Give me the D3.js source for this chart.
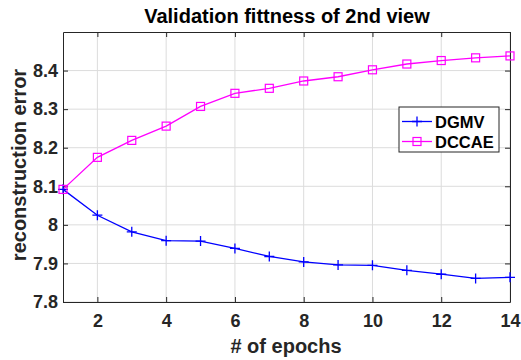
<!DOCTYPE html>
<html>
<head>
<meta charset="utf-8">
<script src="https://cdn.jsdelivr.net/npm/d3@7"></script>
<style>
  body { margin: 0; background: #fff; }
  text { font-family: "Liberation Sans", Arial, sans-serif; font-weight: bold; }
</style>
</head>
<body>
<div id="chart"></div>
<script>
// data
var epochs = [1, 2, 3, 4, 5, 6, 7, 8, 9, 10, 11, 12, 13, 14];
var dgmv = [8.092, 8.025, 7.982, 7.959, 7.958, 7.939, 7.918, 7.904, 7.896, 7.895, 7.882, 7.872, 7.861, 7.864];
var dccae = [8.092, 8.175, 8.219, 8.256, 8.307, 8.341, 8.354, 8.373, 8.384, 8.402, 8.417, 8.426, 8.433, 8.438];
var xTicks = [2, 4, 6, 8, 10, 12, 14];
var yTicks = [7.8, 7.9, 8, 8.1, 8.2, 8.3, 8.4];

var W = 521, H = 360;
var margin = { top: 32, right: 11, bottom: 58, left: 63 };
var width = W - margin.left - margin.right,
    height = H - margin.top - margin.bottom;

var axisColor = "#262626";

var svg = d3.select("#chart").append("svg")
  .attr("width", W)
  .attr("height", H);

var g = svg.append("g")
  .attr("transform", "translate(" + margin.left + "," + margin.top + ")");

var x = d3.scaleLinear().domain([1, 14]).range([0, width]);
var y = d3.scaleLinear().domain([7.8, 8.5]).range([height, 0]);

// grid
g.selectAll(".vgrid").data(xTicks).enter().append("line")
  .attr("x1", function (d) { return x(d); })
  .attr("x2", function (d) { return x(d); })
  .attr("y1", 0).attr("y2", height)
  .style("stroke", "#dcdcdc").style("stroke-width", 1);
g.selectAll(".hgrid").data(yTicks).enter().append("line")
  .attr("y1", function (d) { return y(d); })
  .attr("y2", function (d) { return y(d); })
  .attr("x1", 0).attr("x2", width)
  .style("stroke", "#dcdcdc").style("stroke-width", 1);

// axes (ticks pointing inward, box on)
function styleAxis(sel) {
  sel.selectAll("path").style("stroke", axisColor);
  sel.selectAll("line").style("stroke", axisColor);
  sel.selectAll("text").style("fill", axisColor).style("font-size", "18px");
}
g.append("g")
  .attr("transform", "translate(0," + height + ")")
  .call(d3.axisBottom(x).tickValues(xTicks).tickSize(-5).tickSizeOuter(0).tickPadding(12).tickFormat(d3.format("d")))
  .call(styleAxis);
g.append("g")
  .call(d3.axisTop(x).tickValues(xTicks).tickSize(-5).tickSizeOuter(0).tickFormat(""))
  .call(styleAxis);
g.append("g")
  .call(d3.axisLeft(y).tickValues(yTicks).tickSize(-5).tickSizeOuter(0).tickPadding(5).tickFormat(function (d) { return d3.format("")(+d.toFixed(1)); }))
  .call(styleAxis);
g.append("g")
  .attr("transform", "translate(" + width + ",0)")
  .call(d3.axisRight(y).tickValues(yTicks).tickSize(-5).tickSizeOuter(0).tickFormat(""))
  .call(styleAxis);

// lines
var line = function (vals) {
  return d3.line()
    .x(function (d, i) { return x(epochs[i]); })
    .y(function (d) { return y(d); })(vals);
};

g.append("path")
  .attr("d", line(dgmv))
  .style("fill", "none").style("stroke", "#0000ff").style("stroke-width", 1.3);
g.append("path")
  .attr("d", line(dccae))
  .style("fill", "none").style("stroke", "#ff00ff").style("stroke-width", 1.3);

// markers
g.selectAll(".plus").data(dgmv).enter().append("path")
  .attr("transform", function (d, i) { return "translate(" + x(epochs[i]) + "," + y(d) + ")"; })
  .attr("d", "M-5,0H5M0,-5V5")
  .style("stroke", "#0000ff").style("stroke-width", 1.3);
g.selectAll(".sq").data(dccae).enter().append("rect")
  .attr("x", function (d, i) { return x(epochs[i]) - 4; })
  .attr("y", function (d) { return y(d) - 4; })
  .attr("width", 8).attr("height", 8)
  .style("fill", "none").style("stroke", "#ff00ff").style("stroke-width", 1.2);

// title and labels
svg.append("text")
  .attr("x", 287).attr("y", 23)
  .attr("text-anchor", "middle")
  .style("font-size", "20px").style("fill", "#000")
  .text("Validation fittness of 2nd view");
svg.append("text")
  .attr("x", 286).attr("y", 353)
  .attr("text-anchor", "middle")
  .style("font-size", "20px").style("fill", axisColor)
  .text("# of epochs");
svg.append("text")
  .attr("transform", "translate(26,165) rotate(-90)")
  .attr("text-anchor", "middle")
  .style("font-size", "20px").style("fill", axisColor)
  .text("reconstruction error");

// legend
var lg = svg.append("g").attr("transform", "translate(399,107)");
lg.append("rect")
  .attr("width", 100).attr("height", 45)
  .style("fill", "#fff").style("stroke", axisColor).style("stroke-width", 1);
var legendItems = [
  { name: "DGMV", color: "#0000ff", mark: "plus" },
  { name: "DCCAE", color: "#ff00ff", mark: "sq" }
];
legendItems.forEach(function (it, i) {
  var cy = 14.5 + i * 20;
  lg.append("line").attr("x1", 3).attr("x2", 33).attr("y1", cy).attr("y2", cy)
    .style("stroke", it.color).style("stroke-width", 1.3);
  if (it.mark === "plus") {
    lg.append("path").attr("d", "M13," + cy + "H23M18," + (cy - 5) + "V" + (cy + 5))
      .style("stroke", it.color).style("stroke-width", 1.3);
  } else {
    lg.append("rect").attr("x", 14).attr("y", cy - 4).attr("width", 8).attr("height", 8)
      .style("fill", "none").style("stroke", it.color).style("stroke-width", 1.2);
  }
  lg.append("text").attr("x", 36).attr("y", cy + 6)
    .style("font-size", "16.5px").style("fill", "#000")
    .text(it.name);
});
</script>
</body>
</html>
